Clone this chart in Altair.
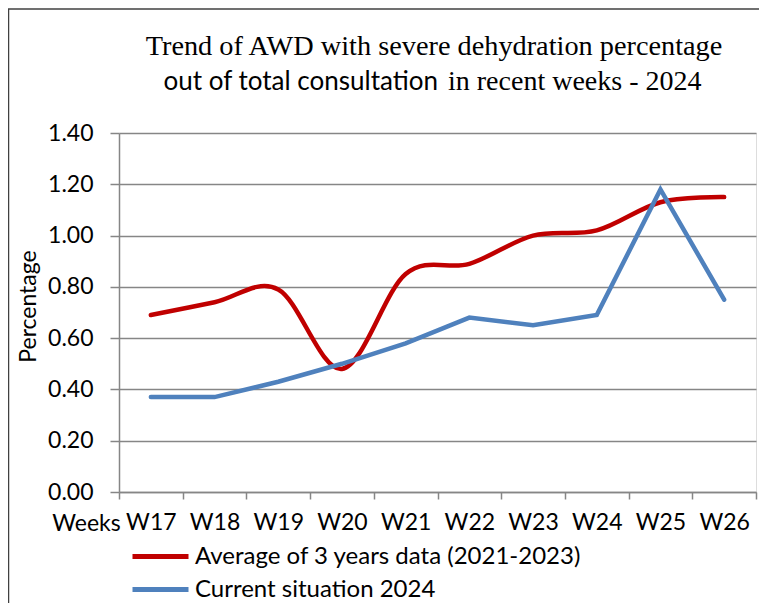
import altair as alt
import pandas as pd

weeks = ["W17", "W18", "W19", "W20", "W21", "W22", "W23", "W24", "W25", "W26"]
avg_3y = [0.69, 0.74, 0.79, 0.48, 0.85, 0.89, 1.00, 1.02, 1.13, 1.15]
current_2024 = [0.37, 0.37, 0.43, 0.50, 0.58, 0.68, 0.65, 0.69, 1.18, 0.75]
series_names = ["Average of 3 years data (2021-2023)", "Current situation 2024"]
series_colors = ["#C00000", "#4F81BD"]
y_ticks = [0.0, 0.2, 0.4, 0.6, 0.8, 1.0, 1.2, 1.4]
title_line1 = "Trend of AWD with severe dehydration percentage"
title_line2a = "out of total consultation"
title_line2b = "in recent weeks - 2024"

df_avg = pd.DataFrame({"week": weeks, "value": avg_3y, "series": series_names[0]})
df_cur = pd.DataFrame({"week": weeks, "value": current_2024, "series": series_names[1]})

SANS = "Lato"
SERIF = "Liberation Serif"
GRAY = "#868686"

x_enc = alt.X(
    "week:N",
    sort=weeks,
    scale=alt.Scale(paddingInner=0, paddingOuter=0),
    axis=alt.Axis(
        title="Weeks",
        titleFont=SANS,
        titleFontSize=23,
        titleFontWeight="normal",
        titleColor="black",
        titleX=-33,
        titleY=31,
        titleAlign="center",
        titleBaseline="middle",
        titleAngle=0,
        labelFont=SANS,
        labelFontSize=23,
        labelColor="black",
        labelAngle=0,
        labelPadding=12,
        tickBand="extent",
        tickSize=7,
        tickColor=GRAY,
        tickWidth=1.5,
        domainColor=GRAY,
        domainWidth=1.5,
        grid=False,
    ),
)
y_enc = alt.Y(
    "value:Q",
    scale=alt.Scale(domain=[0, 1.4], nice=False, zero=True),
    axis=alt.Axis(
        title="Percentage",
        titleFont=SANS,
        titleFontSize=23,
        titleFontWeight="normal",
        titleColor="black",
        titleX=-91,
        titleY=173,
        titleAlign="center",
        titleBaseline="middle",
        titleAngle=-90,
        values=y_ticks,
        format=".2f",
        labelFont=SANS,
        labelFontSize=23,
        labelColor="black",
        labelPadding=17,
        tickSize=9,
        tickColor=GRAY,
        tickWidth=1.5,
        domainColor=GRAY,
        domainWidth=1.5,
        grid=True,
        gridColor=GRAY,
        gridWidth=1.5,
    ),
)
color_enc = alt.Color(
    "series:N",
    scale=alt.Scale(domain=series_names, range=series_colors),
    legend=alt.Legend(
        title=None,
        orient="none",
        legendX=11,
        legendY=411,
        direction="vertical",
        symbolType="stroke",
        symbolSize=3136,
        symbolStrokeWidth=5,
        labelFont=SANS,
        labelFontSize=24,
        labelColor="black",
        labelOffset=4,
        rowPadding=8,
        clipHeight=25,
        labelLimit=600,
    ),
)

red = alt.Chart(df_avg).mark_line(strokeWidth=4.5, interpolate="cardinal", strokeCap="round").encode(
    x=x_enc, y=y_enc, color=color_enc
)
blue = alt.Chart(df_cur).mark_line(strokeWidth=4.5, strokeCap="round", strokeJoin="miter").encode(
    x=x_enc, y=y_enc, color=color_enc
)

one = pd.DataFrame({"a": [0]})
t1 = alt.Chart(one).mark_text(font=SERIF, fontSize=28.3, align="center", baseline="middle", color="black").encode(
    x=alt.value(315), y=alt.value(-86), text=alt.value(title_line1)
)
t2a = alt.Chart(one).mark_text(font=SANS, fontSize=26, align="right", baseline="middle", color="black").encode(
    x=alt.value(319), y=alt.value(-51), text=alt.value(title_line2a)
)
t2b = alt.Chart(one).mark_text(font=SERIF, fontSize=28, align="left", baseline="middle", color="black").encode(
    x=alt.value(329), y=alt.value(-51), text=alt.value(title_line2b)
)
frame_top = alt.Chart(one).mark_rule(color="#404040", strokeWidth=1.5).encode(
    x=alt.value(-111), x2=alt.value(645), y=alt.value(-124)
)
frame_left = alt.Chart(one).mark_rule(color="#404040", strokeWidth=1.5).encode(
    x=alt.value(-110.5), y=alt.value(-124), y2=alt.value(480)
)

chart = alt.layer(red, blue, t1, t2a, t2b, frame_top, frame_left).properties(
    width=637,
    height=359,
    autosize=alt.AutoSizeParams(type="none"),
    padding={"left": 111, "top": 125, "right": 3, "bottom": 111},
).configure_view(stroke=None).configure(background="white")

chart.save("out.html", embed_options={"renderer": "svg", "actions": False})
